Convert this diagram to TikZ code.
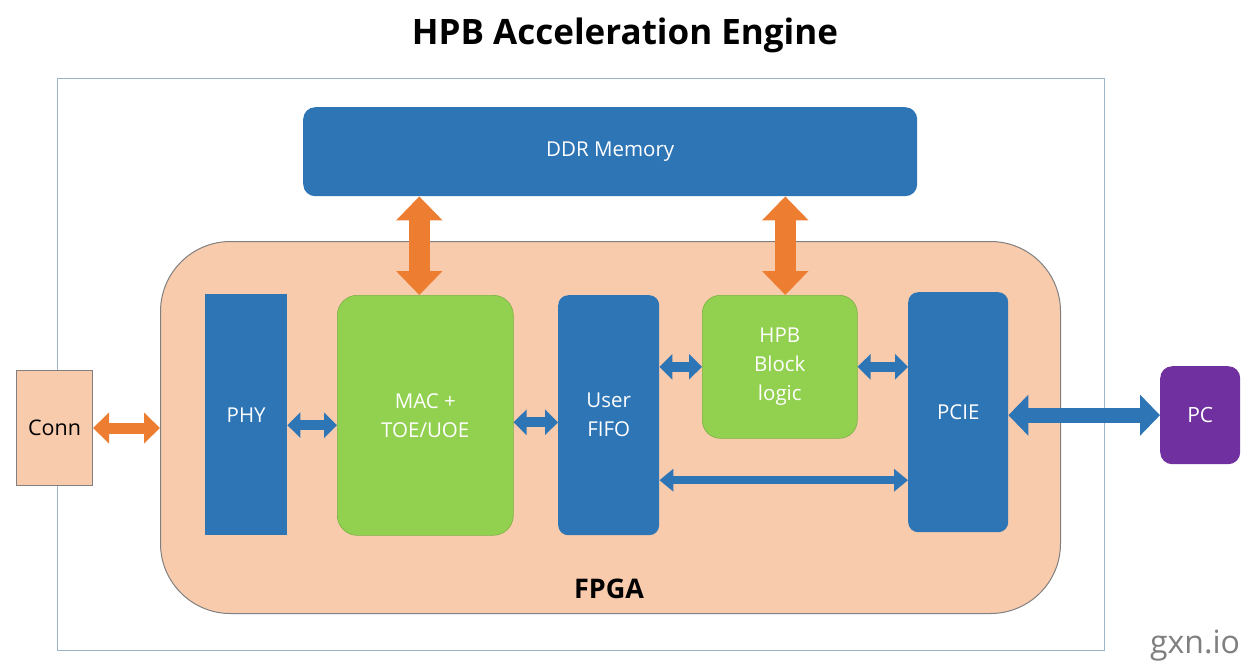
\documentclass[tikz,border=0pt]{standalone}
\usepackage{fontspec}
\setmainfont{Open Sans}
\usetikzlibrary{arrows.meta}
\definecolor{blu}{HTML}{2E75B6}
\definecolor{grn}{HTML}{92D050}
\definecolor{peach}{HTML}{F8CBAD}
\definecolor{org}{HTML}{ED7D31}
\definecolor{purp}{HTML}{7030A0}
\definecolor{framec}{HTML}{9DB3C8}
\definecolor{edgegray}{HTML}{808080}
\definecolor{wm}{HTML}{7F7F7F}
\begin{document}
\begin{tikzpicture}[x=1pt,y=-1pt,
  boxbase/.style={anchor=north west, inner sep=0pt, align=center, text=white,
    font=\fontsize{20.5}{29}\selectfont},
  bluebox/.style={boxbase, fill=blu},
  greenbox/.style={boxbase, fill=grn, draw=grn!85!black, line width=0.6pt},
  oarrowh/.style={org, line width=11pt, {Triangle[width=30pt,length=16pt]}-{Triangle[width=30pt,length=16pt]}},
  oarrowv/.style={org, line width=21pt, {Triangle[width=45pt,length=24pt]}-{Triangle[width=45pt,length=24pt]}},
  barrow/.style={blu, line width=10pt, {Triangle[width=25pt,length=13pt]}-{Triangle[width=25pt,length=13pt]}},
  barrowthin/.style={blu, line width=8pt, {Triangle[width=22pt,length=14pt]}-{Triangle[width=22pt,length=14pt]}},
  barrowbig/.style={blu, line width=15pt, {Triangle[width=40pt,length=20pt]}-{Triangle[width=40pt,length=20pt]}}
]
\useasboundingbox (0,0) rectangle (1252,665);
\fill[white] (0,0) rectangle (1252,665);

\node[font=\fontsize{35}{40}\selectfont\bfseries] (title) at (625,35) {HPB Acceleration Engine};

\node[anchor=north west, draw=framec, line width=1pt, minimum width=1047pt, minimum height=572pt, inner sep=0pt] (frame) at (57,78) {};

\node[bluebox, rounded corners=12pt, minimum width=614pt, minimum height=89pt] (ddr) at (303,107) {DDR Memory};

\node[anchor=north west, fill=peach, draw=edgegray, line width=1pt, rounded corners=70pt, minimum width=900pt, minimum height=372pt, inner sep=0pt] (fpga) at (160,241) {};
\node[font=\fontsize{27}{30}\selectfont\bfseries] (fpgalabel) at (609,589) {FPGA};

\node[bluebox, minimum width=82pt, minimum height=241pt] (phy) at (205,294) {PHY};
\node[greenbox, rounded corners=20pt, minimum width=176pt, minimum height=240pt] (mac) at (337,295) {MAC +\\TOE/UOE};
\node[bluebox, rounded corners=10pt, minimum width=101pt, minimum height=240pt] (fifo) at (558,295) {User\\FIFO};
\node[greenbox, rounded corners=18pt, minimum width=155pt, minimum height=143pt] (hpb) at (702,295) {HPB\\Block\\logic};
\node[bluebox, rounded corners=10pt, minimum width=100pt, minimum height=240pt] (pcie) at (908,292) {PCIE};

\node[anchor=north west, fill=peach, draw=edgegray, line width=1pt, minimum width=76pt, minimum height=115pt, inner sep=0pt, font=\fontsize{21.5}{24}\selectfont] (conn) at (16,370) {Conn};
\node[anchor=north west, fill=purp, text=white, rounded corners=12pt, minimum width=80pt, minimum height=98pt, inner sep=0pt, font=\fontsize{21}{24}\selectfont] (pc) at (1160,366) {PC};

\node[text=wm, font=\fontsize{32}{36}\selectfont] (wmark) at (1195,646) {gxn.io};

% arrows
\draw[oarrowh] (conn.east) -- (conn.east -| fpga.west);
\draw[oarrowv] ([xshift=-6pt]mac.north) -- ([xshift=-6pt]mac.north |- ddr.south);
\draw[oarrowv] ([xshift=5.5pt]hpb.north) -- ([xshift=5.5pt]hpb.north |- ddr.south);

\coordinate (pm) at ([yshift=-10.5pt]phy.east);
\draw[barrow] (pm) -- (pm -| mac.west);
\coordinate (mf) at ([yshift=-7pt]mac.east);
\draw[barrow] (mf) -- (mf -| fifo.west);
\draw[barrow] (hpb.west -| fifo.east) -- (hpb.west);
\draw[barrow] (hpb.east) -- (hpb.east -| pcie.west);
\coordinate (lowL) at ([yshift=-65pt]fifo.east);
\draw[barrowthin] (lowL) -- (lowL -| pcie.west);
\draw[barrowbig] (pc.west -| pcie.east) -- (pc.west);
\end{tikzpicture}
\end{document}
